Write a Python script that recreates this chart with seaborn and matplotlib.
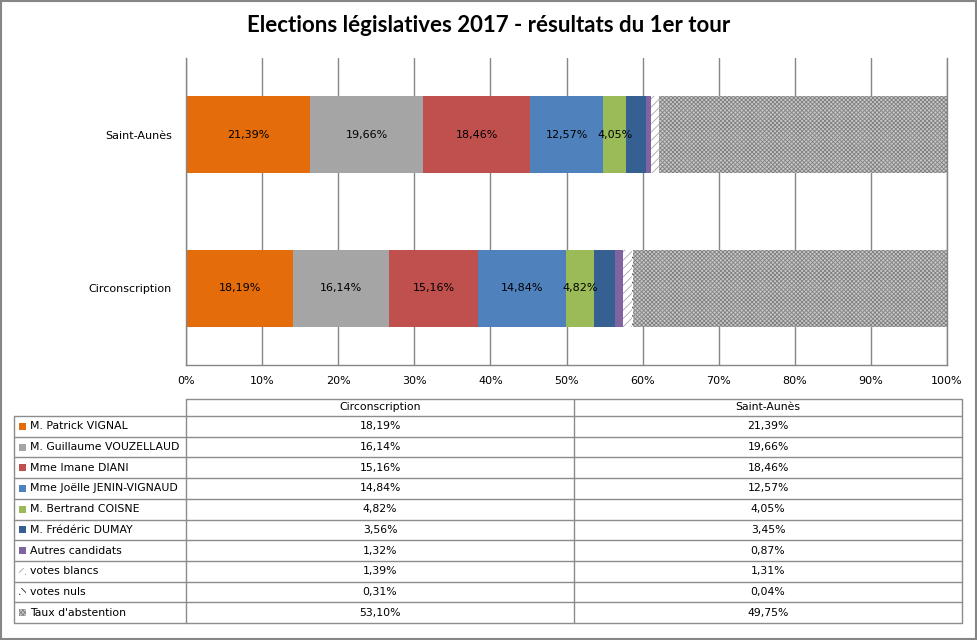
import numpy as np
import pandas as pd
import seaborn as sns
import matplotlib.pyplot as plt
from matplotlib.patches import Rectangle

# données (premier tour, législatives 2017)
zones = ["Saint-Aunès", "Circonscription"]
candidats = ["M. Patrick VIGNAL", "M. Guillaume VOUZELLAUD", "Mme Imane DIANI",
             "Mme Joëlle JENIN-VIGNAUD", "M. Bertrand COISNE", "M. Frédéric DUMAY",
             "Autres candidats", "votes blancs", "votes nuls", "Taux d'abstention"]
saint_aunes = [21.39, 19.66, 18.46, 12.57, 4.05, 3.45, 0.87, 1.31, 0.04, 49.75]
circonscription = [18.19, 16.14, 15.16, 14.84, 4.82, 3.56, 1.32, 1.39, 0.31, 53.10]

couleurs = ["#E46C0A", "#A5A5A5", "#C0504D", "#4F81BD", "#9BBB59", "#376092",
            "#8064A2", "#FFFFFF", "#FFFFFF", "#C8C8C8"]
hachures = [None] * 7 + ["////", "\\\\\\\\", "xxxxxxxx"]
hachure_coul = ["none"] * 7 + ["#A6A6A6", "#262626", "#808080"]
nb_labels = 5  # seuls les 5 premiers segments sont étiquetés

sns.set_theme(style="white")
plt.rcParams["font.family"] = ["DejaVu Sans"]
plt.rcParams["hatch.linewidth"] = 0.6
for k in ["text.color", "axes.labelcolor", "xtick.color", "ytick.color"]:
    plt.rcParams[k] = "black"

W, H = 978, 640
fig = plt.figure(figsize=(W / 100, H / 100), dpi=100)

# barres empilées à 100 %
ax = fig.add_axes([186 / W, (H - 365) / H, (947 - 186) / W, (365 - 58) / H])
vals = np.array([saint_aunes, circonscription])
parts = vals / vals.sum(axis=1, keepdims=True) * 100
cum = parts.cumsum(axis=1)

for i in range(len(candidats) - 1, -1, -1):
    df = pd.DataFrame({"zone": zones, "cum": cum[:, i]})
    sns.barplot(data=df, x="cum", y="zone", orient="h", color=couleurs[i],
                saturation=1, width=0.5, hatch=hachures[i],
                edgecolor=hachure_coul[i], linewidth=0, ax=ax)

for z in range(len(zones)):
    for i in range(nb_labels):
        centre = cum[z, i] - parts[z, i] / 2
        ax.text(centre, z, f"{vals[z, i]:.2f}%".replace(".", ","),
                ha="center", va="center", fontsize=8, color="black")

ax.set_xlim(0, 100)
ax.set_ylim(1.5, -0.5)
ax.set_xticks(np.arange(0, 101, 10))
ax.set_xticklabels([f"{t}%" for t in range(0, 101, 10)], fontsize=8)
ax.tick_params(axis="both", length=0, pad=8)
ax.tick_params(axis="y", labelsize=8, pad=10)
ax.set_xlabel("")
ax.set_ylabel("")
ax.grid(axis="x", color="#868686", linewidth=1)
ax.set_axisbelow(True)
ax.spines["top"].set_visible(False)
for s in ["left", "bottom", "right"]:
    ax.spines[s].set_color("#868686")
    ax.spines[s].set_linewidth(1)

fig.text(0.5, 1 - 26 / H, "Elections législatives 2017 - résultats du 1er tour",
         ha="center", va="center", fontsize=16, fontweight="bold", family="Lato",
         color="black")

# tableau de données sous le graphique
x0, x1, x2, x3 = 14, 186, 574, 962
y0, y1, y_end = 399, 416, 623
tb = fig.add_axes([x0 / W, (H - y_end) / H, (x3 - x0) / W, (y_end - y0) / H])
tb.set_xlim(x0, x3)
tb.set_ylim(y_end, y0)
tb.axis("off")
lc = "#8C8C8C"
rh = (y_end - y1) / len(candidats)
tb.plot([x1, x3], [y0, y0], color=lc, lw=1, clip_on=False)
for x in [x1, x2, x3]:
    tb.plot([x, x], [y0, y_end], color=lc, lw=1, clip_on=False)
tb.plot([x0, x0], [y1, y_end], color=lc, lw=1, clip_on=False)
for k in range(len(candidats) + 1):
    yy = y1 + k * rh
    tb.plot([x0, x3], [yy, yy], color=lc, lw=1, clip_on=False)

fs = 7.8
tb.text((x1 + x2) / 2, (y0 + y1) / 2, zones[1], ha="center", va="center", fontsize=fs)
tb.text((x2 + x3) / 2, (y0 + y1) / 2, zones[0], ha="center", va="center", fontsize=fs)
for k, nom in enumerate(candidats):
    yc = y1 + (k + 0.5) * rh
    tb.add_patch(Rectangle((19, yc - 3.5), 7, 7, facecolor=couleurs[k],
                           hatch=hachures[k], edgecolor=hachure_coul[k], lw=0))
    tb.text(30, yc, nom, ha="left", va="center", fontsize=fs)
    tb.text((x1 + x2) / 2, yc, f"{circonscription[k]:.2f}%".replace(".", ","),
            ha="center", va="center", fontsize=fs)
    tb.text((x2 + x3) / 2, yc, f"{saint_aunes[k]:.2f}%".replace(".", ","),
            ha="center", va="center", fontsize=fs)

fig.patches.append(Rectangle((0.001, 0.002), 0.997, 0.996, transform=fig.transFigure,
                             fill=False, edgecolor="#868686", lw=1.5))

fig.savefig("out.png", dpi=100)
